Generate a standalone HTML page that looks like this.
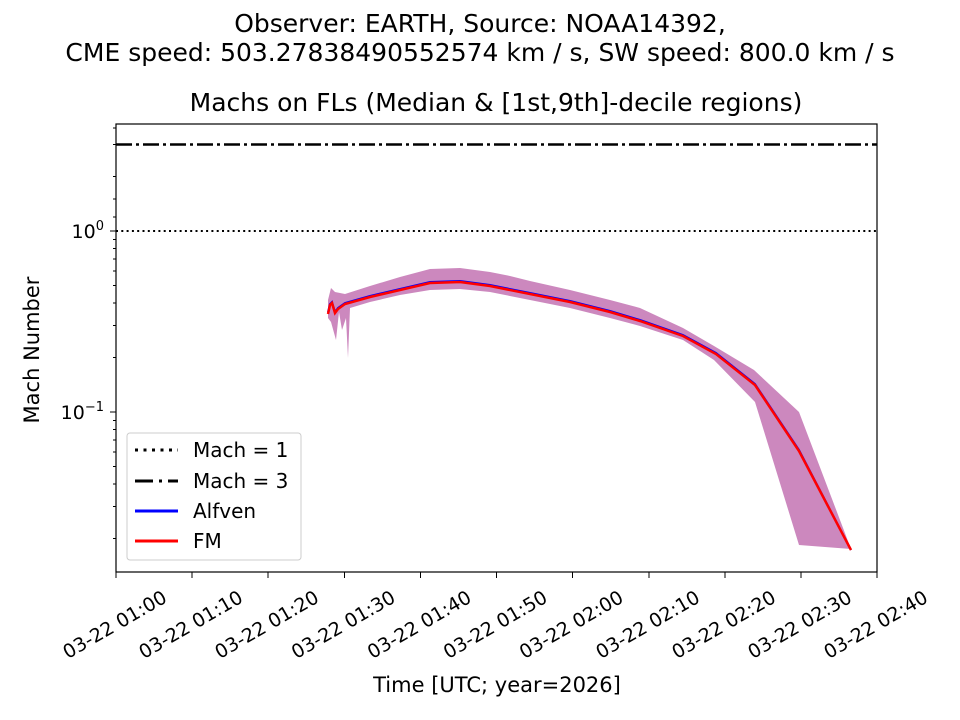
<!DOCTYPE html>
<html><head><style>body{margin:0;background:#fff}svg{display:block}text{font-family:"DejaVu Sans","Liberation Sans",sans-serif;fill:#000}</style></head><body>
<svg width="960" height="720" xmlns="http://www.w3.org/2000/svg">
<text x="480" y="32" font-size="25" text-anchor="middle">Observer: EARTH, Source: NOAA14392,</text>
<text x="480" y="61" font-size="25" text-anchor="middle">CME speed: 503.27838490552574 km / s, SW speed: 800.0 km / s</text>
<text x="496" y="111" font-size="25" text-anchor="middle">Machs on FLs (Median &amp; [1st,9th]-decile regions)</text>
<polygon fill="#cc88be" points="328,300 331,288 335,292 345,294 370,286 400,277 430,269 460,268 490,272 510,276 530,281 570,290 610,300 640,308 683,328 714,346 754,370 799,412 851,549 799,545 755,402 714,360 683,340 640,326 610,318 570,308 530,300 490,292 460,289 430,290 400,295 370,302 350,308 348,358 346,318 342,330 339,312 336,340 331,322 328,318"/>
<polyline fill="none" stroke="#00f" stroke-width="2" points="328,312 330,304 332,302 335,312 338,308 345,303 370,296 400,289 430,282 460,281 490,285 530,293 570,301 610,311 640,320 683,335 716,353 755,384 799,450 851,550"/>
<polyline fill="none" stroke="#f00" stroke-width="2.5" points="328,314 330,305 332,303 335,313 338,309 345,304 370,297 400,290 430,283 460,282 490,286 530,294 570,302 610,312 640,321 683,336 716,354 755,385 799,451 851,550"/>
<line x1="116" y1="231" x2="877" y2="231" stroke="#000" stroke-width="2" stroke-dasharray="2,3.3"/>
<line x1="116" y1="144.5" x2="877" y2="144.5" stroke="#000" stroke-width="2.5" stroke-dasharray="16,4,3,4"/>
<rect x="116" y="124" width="761" height="448" fill="none" stroke="#000" stroke-width="1.2"/>
<g stroke="#000">
<line x1="110" y1="231" x2="116" y2="231"/><line x1="110" y1="412" x2="116" y2="412"/>
<line x1="113" y1="176.5" x2="116" y2="176.5"/><line x1="113" y1="199" x2="116" y2="199"/><line x1="113" y1="217" x2="116" y2="217"/><line x1="113" y1="144.5" x2="116" y2="144.5"/><line x1="113" y1="128" x2="116" y2="128"/>
<line x1="113" y1="357.5" x2="116" y2="357.5"/><line x1="113" y1="325.5" x2="116" y2="325.5"/><line x1="113" y1="303" x2="116" y2="303"/><line x1="113" y1="285.5" x2="116" y2="285.5"/><line x1="113" y1="271" x2="116" y2="271"/><line x1="113" y1="259" x2="116" y2="259"/><line x1="113" y1="248.5" x2="116" y2="248.5"/><line x1="113" y1="239.5" x2="116" y2="239.5"/>
<line x1="113" y1="538.5" x2="116" y2="538.5"/><line x1="113" y1="506.5" x2="116" y2="506.5"/><line x1="113" y1="484" x2="116" y2="484"/><line x1="113" y1="466.5" x2="116" y2="466.5"/><line x1="113" y1="452" x2="116" y2="452"/><line x1="113" y1="440" x2="116" y2="440"/><line x1="113" y1="429.5" x2="116" y2="429.5"/><line x1="113" y1="420.5" x2="116" y2="420.5"/>
</g>
<text x="104" y="238" font-size="19" text-anchor="end">10<tspan dy="-8" font-size="13">0</tspan></text>
<text x="104" y="419" font-size="19" text-anchor="end">10<tspan dy="-8" font-size="13">−1</tspan></text>
<text transform="translate(39,350) rotate(-90)" font-size="21" text-anchor="middle">Mach Number</text>
<g stroke="#000">
<line x1="116" y1="572" x2="116" y2="578"/><line x1="192" y1="572" x2="192" y2="578"/><line x1="268" y1="572" x2="268" y2="578"/><line x1="344.5" y1="572" x2="344.5" y2="578"/><line x1="420.5" y1="572" x2="420.5" y2="578"/><line x1="496.5" y1="572" x2="496.5" y2="578"/><line x1="572.5" y1="572" x2="572.5" y2="578"/><line x1="649" y1="572" x2="649" y2="578"/><line x1="725" y1="572" x2="725" y2="578"/><line x1="801" y1="572" x2="801" y2="578"/><line x1="877" y1="572" x2="877" y2="578"/>
</g>
<g font-size="19" text-anchor="middle" dominant-baseline="central">
<text transform="translate(115,625) rotate(-30)">03-22 01:00</text>
<text transform="translate(191,625) rotate(-30)">03-22 01:10</text>
<text transform="translate(267,625) rotate(-30)">03-22 01:20</text>
<text transform="translate(343.5,625) rotate(-30)">03-22 01:30</text>
<text transform="translate(419.5,625) rotate(-30)">03-22 01:40</text>
<text transform="translate(495.5,625) rotate(-30)">03-22 01:50</text>
<text transform="translate(571.5,625) rotate(-30)">03-22 02:00</text>
<text transform="translate(648,625) rotate(-30)">03-22 02:10</text>
<text transform="translate(724,625) rotate(-30)">03-22 02:20</text>
<text transform="translate(800,625) rotate(-30)">03-22 02:30</text>
<text transform="translate(876,625) rotate(-30)">03-22 02:40</text>
</g>
<text x="497" y="692" font-size="21" text-anchor="middle">Time [UTC; year=2026]</text>
<rect x="127" y="433" width="174" height="127" rx="3" fill="#fff" stroke="#ccc"/>
<line x1="135" y1="450" x2="178" y2="450" stroke="#000" stroke-width="3" stroke-dasharray="3,5.5"/>
<line x1="135" y1="481" x2="178" y2="481" stroke="#000" stroke-width="3" stroke-dasharray="18,6,3,6"/>
<line x1="135" y1="511" x2="178" y2="511" stroke="#00f" stroke-width="3"/>
<line x1="135" y1="541" x2="178" y2="541" stroke="#f00" stroke-width="3"/>
<g font-size="20"><text x="193" y="457">Mach = 1</text><text x="193" y="488">Mach = 3</text><text x="193" y="518">Alfven</text><text x="193" y="548">FM</text></g>
</svg>
</body></html>
